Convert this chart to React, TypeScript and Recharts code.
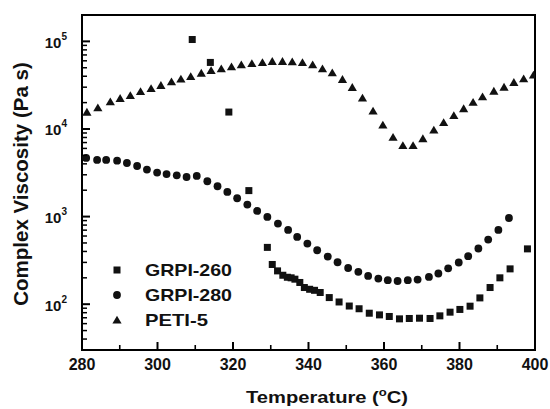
import { Label, Legend, ReferenceArea, Scatter, ScatterChart, XAxis, YAxis } from "recharts";

const FONT = "'Liberation Sans', Arial, Helvetica, sans-serif";
const INK = "#111";

const seriesNames = ["GRPI-260", "GRPI-280", "PETI-5"];

const grpi260Temp = [309.2, 314.0, 318.9, 324.2, 329.1, 330.4, 331.8, 333.2, 334.4, 335.4, 336.4, 337.7, 338.9, 340.3, 341.6, 343.1, 345.5, 348.1, 350.8, 353.4, 356.1, 358.8, 361.4, 364.1, 366.7, 369.4, 372.2, 374.8, 377.5, 380.1, 382.8, 385.4, 388.1, 390.7, 393.4, 398.0];
const grpi260Visc = [105000, 57500, 15600, 1980, 445, 284, 240, 214, 203, 200, 193, 177, 155, 148, 144, 136, 119, 106, 95.3, 88.7, 78.9, 75.5, 72.4, 68.0, 68.7, 69.2, 68.7, 73.6, 81.1, 87.1, 94.9, 118, 155, 200, 253, 428];

const grpi280Temp = [281.1, 284.0, 286.4, 289.3, 291.9, 294.6, 297.2, 299.9, 302.4, 305.1, 307.7, 310.4, 313.2, 315.9, 318.5, 321.1, 323.8, 326.4, 329.1, 331.9, 334.6, 337.0, 339.7, 342.3, 345.1, 347.7, 350.5, 353.2, 355.8, 358.5, 361.0, 363.6, 366.3, 368.9, 371.9, 374.4, 377.0, 379.8, 382.3, 385.0, 387.6, 390.3, 393.1];
const grpi280Visc = [4670, 4430, 4430, 4350, 4090, 3780, 3440, 3180, 3060, 2960, 2830, 2910, 2530, 2220, 1910, 1620, 1370, 1160, 990, 833, 705, 586, 492, 413, 350, 301, 259, 234, 210, 196, 188, 184, 188, 191, 205, 224, 257, 299, 353, 432, 547, 705, 964];

const peti5Temp = [281.3, 284.2, 287.5, 290.1, 292.8, 295.5, 298.3, 300.9, 303.7, 306.2, 308.8, 311.6, 314.2, 316.9, 319.6, 322.2, 325.0, 327.8, 330.4, 333.1, 335.7, 338.4, 341.1, 343.7, 346.3, 349.0, 351.6, 354.3, 357.1, 359.7, 362.4, 365.0, 367.7, 370.3, 373.2, 375.8, 378.5, 381.1, 383.6, 386.1, 389.1, 391.8, 394.4, 397.0, 399.6];
const peti5Visc = [15600, 17500, 20500, 22400, 24200, 26900, 29100, 31500, 34700, 37200, 39900, 43500, 46700, 48800, 51500, 54200, 56100, 57600, 59200, 59200, 58700, 57600, 54200, 48800, 44000, 36900, 29900, 22600, 16100, 11100, 8050, 6480, 6480, 7780, 9750, 11900, 14300, 17100, 20200, 23400, 27100, 30100, 34100, 37600, 41300];

const xTicks = [280, 290, 300, 310, 320, 330, 340, 350, 360, 370, 380, 390, 400];
const yTicks = [
  40, 50, 60, 70, 80, 90,
  100, 200, 300, 400, 500, 600, 700, 800, 900,
  1000, 2000, 3000, 4000, 5000, 6000, 7000, 8000, 9000,
  10000, 20000, 30000, 40000, 50000, 60000, 70000, 80000, 90000,
  100000,
];

const toPoints = (temps: number[], vals: number[]) => temps.map((t, i) => ({ t, v: vals[i] }));

const square = (p: any) => <rect x={p.cx - 3.5} y={p.cy - 3.5} width={7} height={7} fill={INK} />;
const circle = (p: any) => <circle cx={p.cx} cy={p.cy} r={3.9} fill={INK} />;
const triangle = (p: any) => (
  <polygon points={`${p.cx},${p.cy - 4.2} ${p.cx - 4.6},${p.cy + 3.6} ${p.cx + 4.6},${p.cy + 3.6}`} fill={INK} />
);
const shapes = [square, circle, triangle];

function XTick({ x, y, payload }: any) {
  const v = payload.value;
  const major = v % 20 === 0;
  const axisY = y - 8;
  return (
    <g>
      <line x1={x} x2={x} y1={axisY} y2={axisY - (major ? 8 : 5)} stroke="#000" strokeWidth={major ? 2 : 1.6} />
      {major && (
        <text x={x} y={axisY + 20} textAnchor="middle" fontFamily={FONT} fontWeight="bold" fontSize={16} fill={INK}>
          {v}
        </text>
      )}
    </g>
  );
}

function YTick({ x, y, payload }: any) {
  const v = payload.value;
  const e = Math.round(Math.log10(v));
  const major = Math.abs(Math.log10(v) - e) < 1e-6;
  const axisX = x + 8;
  return (
    <g>
      <line x1={axisX} x2={axisX + (major ? 8 : 5)} y1={y} y2={y} stroke="#000" strokeWidth={major ? 2 : 1.5} />
      {major && (
        <text x={axisX - 15} y={y + 6.5} textAnchor="end" fontFamily={FONT} fontWeight="bold" fontSize={15} fill={INK}>
          10
          <tspan dy={-8} fontSize={10}>{e}</tspan>
        </text>
      )}
    </g>
  );
}

function LegendBox() {
  return (
    <svg width={150} height={80}>
      {seriesNames.map((name, i) => {
        const cy = 15 + i * 25;
        const Shape = shapes[i];
        return (
          <g key={name}>
            <Shape cx={12} cy={cy} />
            <text x={40} y={cy + 6} fontFamily={FONT} fontWeight="bold" fontSize={17} fill={INK}
              textLength={name === "PETI-5" ? 63 : 87} lengthAdjust="spacingAndGlyphs">
              {name}
            </text>
          </g>
        );
      })}
    </svg>
  );
}

export default function App() {
  return (
    <div style={{ position: "absolute", left: 0, top: 0, width: 550, height: 409, background: "#fff" }}>
      <ScatterChart width={550} height={409} margin={{ top: 15, right: 15, left: 12, bottom: 29 }}>
        <XAxis
          type="number"
          dataKey="t"
          domain={[280, 400]}
          ticks={xTicks}
          interval={0}
          allowDataOverflow
          height={30}
          tickSize={0}
          tickMargin={8}
          tickLine={false}
          tick={<XTick />}
          axisLine={{ stroke: "#000", strokeWidth: 2 }}
        >
          <Label
            content={() => (
              <text x={327} y={403} textAnchor="middle" fontFamily={FONT} fontWeight="bold" fontSize={17} fill={INK}
                textLength={162} lengthAdjust="spacingAndGlyphs">
                Temperature (
                <tspan dy={-7} fontSize={11}>o</tspan>
                <tspan dy={7}>C)</tspan>
              </text>
            )}
          />
        </XAxis>
        <YAxis
          type="number"
          dataKey="v"
          scale="log"
          domain={[30, 200000]}
          ticks={yTicks}
          interval={0}
          allowDataOverflow
          width={70}
          tickSize={0}
          tickMargin={8}
          tickLine={false}
          tick={<YTick />}
          axisLine={{ stroke: "#000", strokeWidth: 2 }}
        >
          <Label
            content={() => (
              <text x={28} y={184} transform="rotate(-90 28 184)" textAnchor="middle" fontFamily={FONT}
                fontWeight="bold" fontSize={20.5} fill={INK}>
                Complex Viscosity (Pa s)
              </text>
            )}
          />
        </YAxis>
        <ReferenceArea x1={280} x2={400} y1={30} y2={200000} fill="none" stroke="#000" strokeWidth={2} ifOverflow="visible" />
        <Legend
          layout="vertical"
          align="center"
          verticalAlign="middle"
          content={() => <LegendBox />}
          wrapperStyle={{ left: 105, top: 255, width: 150, height: 80 }}
        />
        <Scatter name={seriesNames[0]} data={toPoints(grpi260Temp, grpi260Visc)} shape={square} isAnimationActive={false} />
        <Scatter name={seriesNames[1]} data={toPoints(grpi280Temp, grpi280Visc)} shape={circle} isAnimationActive={false} />
        <Scatter name={seriesNames[2]} data={toPoints(peti5Temp, peti5Visc)} shape={triangle} isAnimationActive={false} />
      </ScatterChart>
    </div>
  );
}
